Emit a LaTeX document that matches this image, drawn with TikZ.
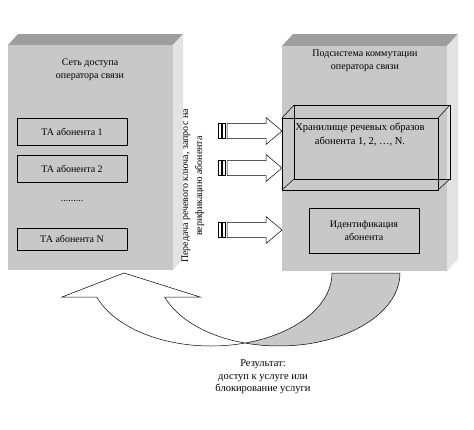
\documentclass[tikz,border=0pt]{standalone}
\usepackage{fontspec}
\setmainfont{Liberation Serif}
\begin{document}
\begin{tikzpicture}[x=1pt,y=-1pt,
  txt/.style={font=\fontsize{10}{13}\selectfont,align=center,inner sep=0pt},
  bigtxt/.style={font=\fontsize{10.5}{14}\selectfont,align=center,inner sep=0pt},
  frontface/.style={fill=boxfront,draw=none},
  topface/.style={fill=boxtop,draw=none},
  sideface/.style={fill=boxside,draw=none},
  innerbox/.style={draw=black,line width=0.6pt,fill=boxfront,inner sep=0pt,
     font=\fontsize{10}{13}\selectfont,align=center},
  wire/.style={draw=black,line width=0.5pt},
  arrowshape/.style={draw=black,line width=0.5pt,fill=white,line join=miter},
  tailshape/.style={draw=black,line width=0.5pt,fill=boxfront},
  headshape/.style={draw=black,line width=0.5pt,fill=white}]
\definecolor{boxfront}{HTML}{C8C8C8}
\definecolor{boxtop}{HTML}{9E9E9E}
\definecolor{boxside}{HTML}{E3E3E3}
\useasboundingbox (0,0) rectangle (474,429);
\fill[white] (0,0) rectangle (474,429);

% ---------- left 3D box
\path[topface] (8,45) -- (18,34) -- (183,34) -- (173,45) -- cycle;
\path[sideface] (173,45) -- (183,34) -- (183,259) -- (173,270) -- cycle;
\path[frontface] (8,45) rectangle (173,270);
\node[txt] (lefttitle) at (90,70) {Сеть доступа\\оператора связи};
\node[innerbox,minimum width=110pt,minimum height=27pt] (ta1) at (72,132) {ТА абонента 1};
\node[innerbox,minimum width=110pt,minimum height=27pt] (ta2) at (72,168.5) {ТА абонента 2};
\node[txt] (dots) at (72,201) {.........};
\node[innerbox,minimum width=110pt,minimum height=22pt] (taN) at (72,239) {ТА абонента N};

% ---------- right 3D box
\path[topface] (282,46) -- (293,34) -- (458,34) -- (447,46) -- cycle;
\path[sideface] (447,46) -- (458,34) -- (458,259) -- (447,271) -- cycle;
\path[frontface] (282,46) rectangle (447,271);
\node[txt] (righttitle) at (365,61) {Подсистема коммутации\\оператора связи};

% storage wireframe box
\draw[wire] (282,118) rectangle (438,190);
\draw[wire] (294,105) rectangle (450,179);
\draw[wire] (282,118) -- (294,105) (438,118) -- (450,105)
            (282,190) -- (294,179) (438,190) -- (450,179);
\node[bigtxt] (store) at (360,134.5) {Хранилище речевых образов\\абонента 1, 2, \dots, N.};

% identification box
\node[innerbox,minimum width=110pt,minimum height=45pt] (ident) at (364,231) {Идентификация\\абонента};

% ---------- striped arrows
\foreach \yy in {131,168,230}{
  \draw[arrowshape] (218,\yy-7.5) rectangle (221,\yy+7.5);
  \draw[arrowshape] (222.5,\yy-7.5) rectangle (225.5,\yy+7.5);
  \draw[arrowshape] (227,\yy-7.5) -- (266,\yy-7.5) -- (266,\yy-13.5) -- (282,\yy)
        -- (266,\yy+13.5) -- (266,\yy+7.5) -- (227,\yy+7.5) -- cycle;
}

% rotated label
\node[txt,rotate=90,font=\fontsize{10}{14}\selectfont] (vlabel) at (193,186) {Передача речевого ключа, запрос на\\верификацию абонента};

% ---------- curved up arrow
% E1: centre (279,273), E2: centre (211,273), radii 121 x 73
\draw[tailshape] plot[domain=0:106.3,samples=50] ({279+121*cos(\x)},{273+73*sin(\x)})
   -- plot[domain=73.7:0,samples=50] ({211+121*cos(\x)},{273+73*sin(\x)}) -- cycle;
\draw[headshape] plot[domain=160.8:73.7,samples=60] ({211+121*cos(\x)},{273+73*sin(\x)})
   -- plot[domain=106.3:160.8,samples=40] ({279+121*cos(\x)},{273+73*sin(\x)})
   -- (200,297) -- (124,273) -- (62,297) -- cycle;

% result text
\node[bigtxt,font=\fontsize{10.5}{12.5}\selectfont] (result) at (263,377) {Результат:\\доступ к услуге или\\блокирование услуги};
\end{tikzpicture}
\end{document}
